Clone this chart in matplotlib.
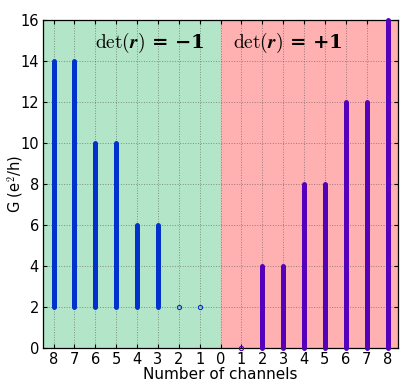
import numpy as np
import matplotlib
matplotlib.use('Agg')
import matplotlib.pyplot as plt

# channel positions (negative side = det(r) = -1)
x_neg = [-8, -7, -6, -5, -4, -3, -2, -1]
g_neg_top = [14, 14, 10, 10, 6, 6, 2, 2]
g_neg_bottom = [2, 2, 2, 2, 2, 2, 2, 2]

x_pos = [1, 2, 3, 4, 5, 6, 7, 8]
g_pos_top = [0, 4, 4, 8, 8, 12, 12, 16]
g_pos_bottom = [0, 0, 0, 0, 0, 0, 0, 0]

xtick_pos = list(range(-8, 9))
xtick_labels = [str(abs(v)) for v in xtick_pos]

plt.rcParams['mathtext.fontset'] = 'cm'

fig = plt.figure(figsize=(4.15, 3.88), dpi=100)
ax = fig.add_axes([0.104, 0.103, 0.855, 0.845])

ax.axvspan(-8.5, 0, color='#b3e6c8', zorder=0)
ax.axvspan(0, 8.5, color='#ffb0b0', zorder=0)

blue = '#0033cc'
purple = '#5500bb'
for x, lo, hi in zip(x_neg, g_neg_bottom, g_neg_top):
    if hi > lo:
        ax.plot([x, x], [lo, hi], color=blue, lw=3.6, solid_capstyle='round', zorder=3)
    else:
        ax.plot([x], [lo], 'o', mfc='none', mec=blue, ms=3, mew=0.8, zorder=3)
for x, lo, hi in zip(x_pos, g_pos_bottom, g_pos_top):
    if hi > lo:
        ax.plot([x, x], [lo, hi], color=purple, lw=3.6, solid_capstyle='round', zorder=3,
                clip_on=False)
    else:
        ax.plot([x], [lo], 'o', mfc='none', mec=purple, ms=3, mew=0.8, zorder=3,
                clip_on=False)

ax.set_xlim(-8.5, 8.5)
ax.set_ylim(0, 16)
ax.set_xticks(xtick_pos)
ax.set_xticklabels(xtick_labels)
ax.set_yticks(range(0, 17, 2))
ax.grid(True, linestyle=':', color='#555555', lw=0.7, alpha=0.6)
ax.tick_params(direction='in', top=True, right=True, labelsize=10.5, length=3, pad=3)
for s in ax.spines.values():
    s.set_linewidth(0.9)

ax.set_xlabel('Number of channels', fontsize=11, labelpad=0)
ax.set_ylabel('G (e$^2$/h)', fontsize=10.5)
ax.yaxis.set_label_coords(-0.052, 0.5)

ax.text(-3.4, 14.9, r'$\mathrm{det}(\boldsymbol{r})$ = −1', fontsize=14,
        family='DejaVu Serif', weight='bold', ha='center', va='center')
ax.text(3.2, 14.9, r'$\mathrm{det}(\boldsymbol{r})$ = +1', fontsize=14,
        family='DejaVu Serif', weight='bold', ha='center', va='center')

fig.savefig('out.png', dpi=100)
